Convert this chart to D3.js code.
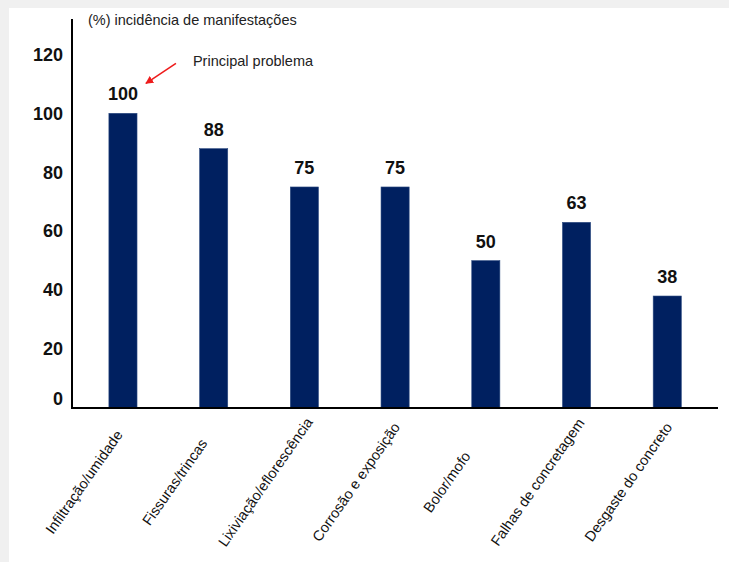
<!DOCTYPE html>
<html>
<head>
<meta charset="utf-8">
<script src="https://cdn.jsdelivr.net/npm/d3@7"></script>
<style>
  html, body { margin: 0; padding: 0; background: #f0f0f0; }
  svg { display: block; }
  text { font-family: "Liberation Sans", Arial, sans-serif; }
</style>
</head>
<body>
<script>
const categories = ["Infiltração/umidade", "Fissuras/trincas", "Lixiviação/eflorescência", "Corrosão e exposição", "Bolor/mofo", "Falhas de concretagem", "Desgaste do concreto"];
const values = [100, 88, 75, 75, 50, 63, 38];
const yTicks = [0, 20, 40, 60, 80, 100, 120];
const yTitle = "(%) incidência de manifestações";
const annotation = "Principal problema";

const W = 729, H = 562;
const svg = d3.select("body").append("svg").attr("width", W).attr("height", H);

// white panel
svg.append("rect").attr("x", 9).attr("y", 8).attr("width", W - 9).attr("height", H - 8).attr("fill", "#ffffff");

const x = d3.scaleBand().domain(categories).range([77.6, 712.6]).paddingInner(0.69).paddingOuter(0.345);
const y = d3.scaleLinear().domain([0, 132]).range([408, 19]);

// bars
svg.append("g").selectAll("rect").data(values).join("rect")
  .attr("x", (d, i) => x(categories[i]))
  .attr("y", d => y(d))
  .attr("width", x.bandwidth())
  .attr("height", d => y(0) - y(d))
  .attr("fill", "#002060")
  .attr("stroke", "#2c4a80").attr("stroke-width", 0.6);

// value labels
svg.append("g").selectAll("text").data(values).join("text")
  .attr("x", (d, i) => x(categories[i]) + x.bandwidth() / 2)
  .attr("y", d => y(d) - 13)
  .attr("text-anchor", "middle")
  .attr("font-size", 18).attr("font-weight", "bold").attr("fill", "#111")
  .text(d => d);

// y axis labels
const yAxis = svg.append("g").attr("transform", "translate(72,0)")
  .call(d3.axisLeft(y).tickValues(yTicks).tickSize(0).tickPadding(9));
yAxis.select(".domain").remove();
yAxis.selectAll("text").attr("font-size", 18).attr("font-weight", "bold").attr("fill", "#111")
  .style("font-family", '"Liberation Sans", Arial, sans-serif')
  .attr("dy", d => d === 0 ? "-0.2em" : "0.32em");

// x axis labels
const xAxis = svg.append("g").attr("transform", `translate(0,${y(0)})`)
  .call(d3.axisBottom(x).tickSize(0));
xAxis.select(".domain").remove();
xAxis.selectAll("text")
  .attr("y", 0).attr("dy", "0.35em")
  .attr("transform", "translate(-39,74) rotate(-55)")
  .attr("text-anchor", "middle")
  .attr("font-size", 14.5).attr("fill", "#111")
  .style("font-family", '"Liberation Sans", Arial, sans-serif');

// axis lines
svg.append("line").attr("x1", 72).attr("x2", 72).attr("y1", y(132)).attr("y2", y(0) + 1)
  .attr("stroke", "#000").attr("stroke-width", 2);
svg.append("line").attr("x1", 71).attr("x2", 718).attr("y1", y(0)).attr("y2", y(0))
  .attr("stroke", "#000").attr("stroke-width", 2);

// y title
svg.append("text").attr("x", 88).attr("y", 25)
  .attr("font-size", 14.5).attr("fill", "#222").text(yTitle);

// annotation arrow
const defs = svg.append("defs");
defs.append("marker").attr("id", "arr").attr("viewBox", "0 0 10 10")
  .attr("refX", 9).attr("refY", 5).attr("markerWidth", 5).attr("markerHeight", 5)
  .attr("orient", "auto")
  .append("path").attr("d", "M0,0 L10,5 L0,10 z").attr("fill", "#ee1c1c");
const cx0 = x(categories[0]) + x.bandwidth() / 2;
svg.append("line")
  .attr("x1", cx0 + 53).attr("y1", y(100) - 50)
  .attr("x2", cx0 + 23).attr("y2", y(100) - 30)
  .attr("stroke", "#ee1c1c").attr("stroke-width", 1.6).attr("marker-end", "url(#arr)");
svg.append("text").attr("x", cx0 + 70).attr("y", y(100) - 47)
  .attr("font-size", 14.5).attr("fill", "#222").text(annotation);
</script>
</body>
</html>
